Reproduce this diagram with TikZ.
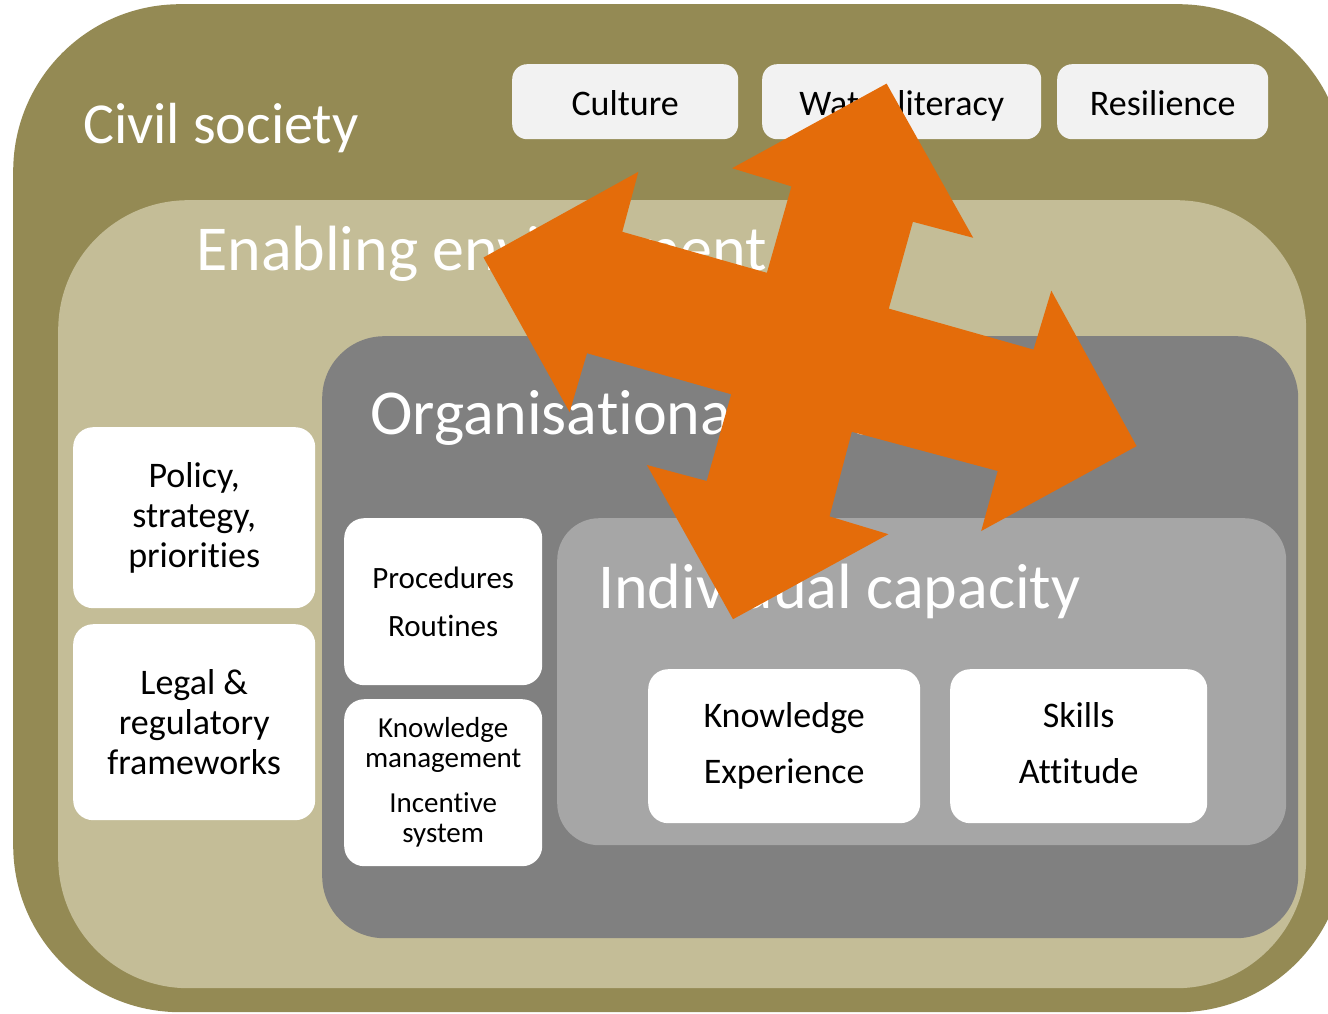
\documentclass[tikz,border=0pt]{standalone}
\usepackage{fontspec}
\setmainfont{Carlito}[Ligatures = CommonOff]
\definecolor{civilOlive}{HTML}{948A54}
\definecolor{enablingTan}{HTML}{C4BD97}
\definecolor{orgGray}{HTML}{808080}
\definecolor{indivGray}{HTML}{A6A6A6}
\definecolor{tagGray}{HTML}{F2F2F2}
\definecolor{arrowOrange}{HTML}{E46C0A}

\begin{document}
\begin{tikzpicture}[x = 1pt, y = -1pt]
\tikzstyle{layerStyle} = [shape = rectangle, inner sep = 0pt, anchor = north west]
\tikzstyle{titleStyle} = [inner sep = 0pt, anchor = base west, text = white, font = \fontsize{64}{66}\selectfont]
\tikzstyle{boxStyle} = [shape = rectangle, inner sep = 0pt, anchor = north west, fill = white, rounded corners = 20pt, align = center]
\tikzstyle{tagStyle} = [boxStyle, fill = tagGray, rounded corners = 15pt, font = \fontsize{36}{40}\selectfont, text height = 29pt, text depth = 1pt]
\useasboundingbox (0,0) rectangle (1328,1014);
\clip (0,0) rectangle (1328,1014);
\node[layerStyle, fill = civilOlive, rounded corners = 167pt, minimum width = 1332pt, minimum height = 1008pt] (civil) at (13,4) {};
\node[layerStyle, fill = enablingTan, rounded corners = 130pt, minimum width = 1248pt, minimum height = 788pt] (enabling) at (58,200) {};
\node[layerStyle, fill = orgGray, rounded corners = 62pt, minimum width = 976pt, minimum height = 602pt] (org) at (322,336) {};
\node[layerStyle, fill = indivGray, rounded corners = 42pt, minimum width = 729pt, minimum height = 327pt] (indiv) at (557,518) {};
\node[titleStyle, font = \fontsize{58}{60}\selectfont] (civilTitle) at (83,143) {Civil society};
\node[titleStyle] (enablingTitle) at (196,270) {Enabling environment};
\node[titleStyle] (orgTitle) at (370,434) {Organisational capacity};
\node[titleStyle] (indivTitle) at (598,608) {Individual capacity};
\node[tagStyle, minimum width = 226pt, minimum height = 75pt] (culture) at (512,64) {Culture};
\node[tagStyle, minimum width = 279pt, minimum height = 75pt] (literacy) at (762,64) {Water literacy};
\node[tagStyle, minimum width = 211pt, minimum height = 75pt] (resilience) at (1057,64) {Resilience};
\node[boxStyle, font = \fontsize{36}{40}\selectfont, minimum width = 242pt, minimum height = 181pt] (policy) at (73,427) {Policy,\\ strategy,\\ priorities};
\node[boxStyle, font = \fontsize{36}{40}\selectfont, minimum width = 242pt, minimum height = 196pt] (legal) at (73,624) {Legal \&\\ regulatory\\ frameworks};
\node[boxStyle, font = \fontsize{31}{48}\selectfont, minimum width = 198pt, minimum height = 167pt] (procedures) at (344,518) {Procedures\\ Routines};
\node[boxStyle, font = \fontsize{29}{30}\selectfont, minimum width = 198pt, minimum height = 167pt] (kmanagement) at (344,699) {Knowledge\\ management\\[15pt] Incentive\\ system};
\node[boxStyle, font = \fontsize{36}{56}\selectfont, minimum width = 272pt, minimum height = 154pt] (knowledge) at (648,669) {Knowledge\\ Experience};
\node[boxStyle, font = \fontsize{36}{56}\selectfont, minimum width = 257pt, minimum height = 154pt] (skills) at (950,669) {Skills\vphantom{g}\\ Attitude\vphantom{p}};
\fill[arrowOrange] (886.6,83.6) -- (973.2,237.8) -- (912.9,221.8) -- (888.8,308.6) -- (1033.5,349.6) -- (1051.3,290.7) -- (1136.6,446.1) -- (981.2,531.0) -- (997.7,471.0) -- (851.8,431.8) -- (829.5,516.4) -- (888.4,534.2) -- (733.0,619.2) -- (646.9,465.0) -- (706.7,481.0) -- (731.2,394.3) -- (587.0,353.2) -- (569.6,412.1) -- (483.5,257.5) -- (638.4,171.8) -- (622.3,231.8) -- (766.9,272.8) -- (791.5,186.4) -- (732.1,168.2) -- cycle;
\end{tikzpicture}
\end{document}
